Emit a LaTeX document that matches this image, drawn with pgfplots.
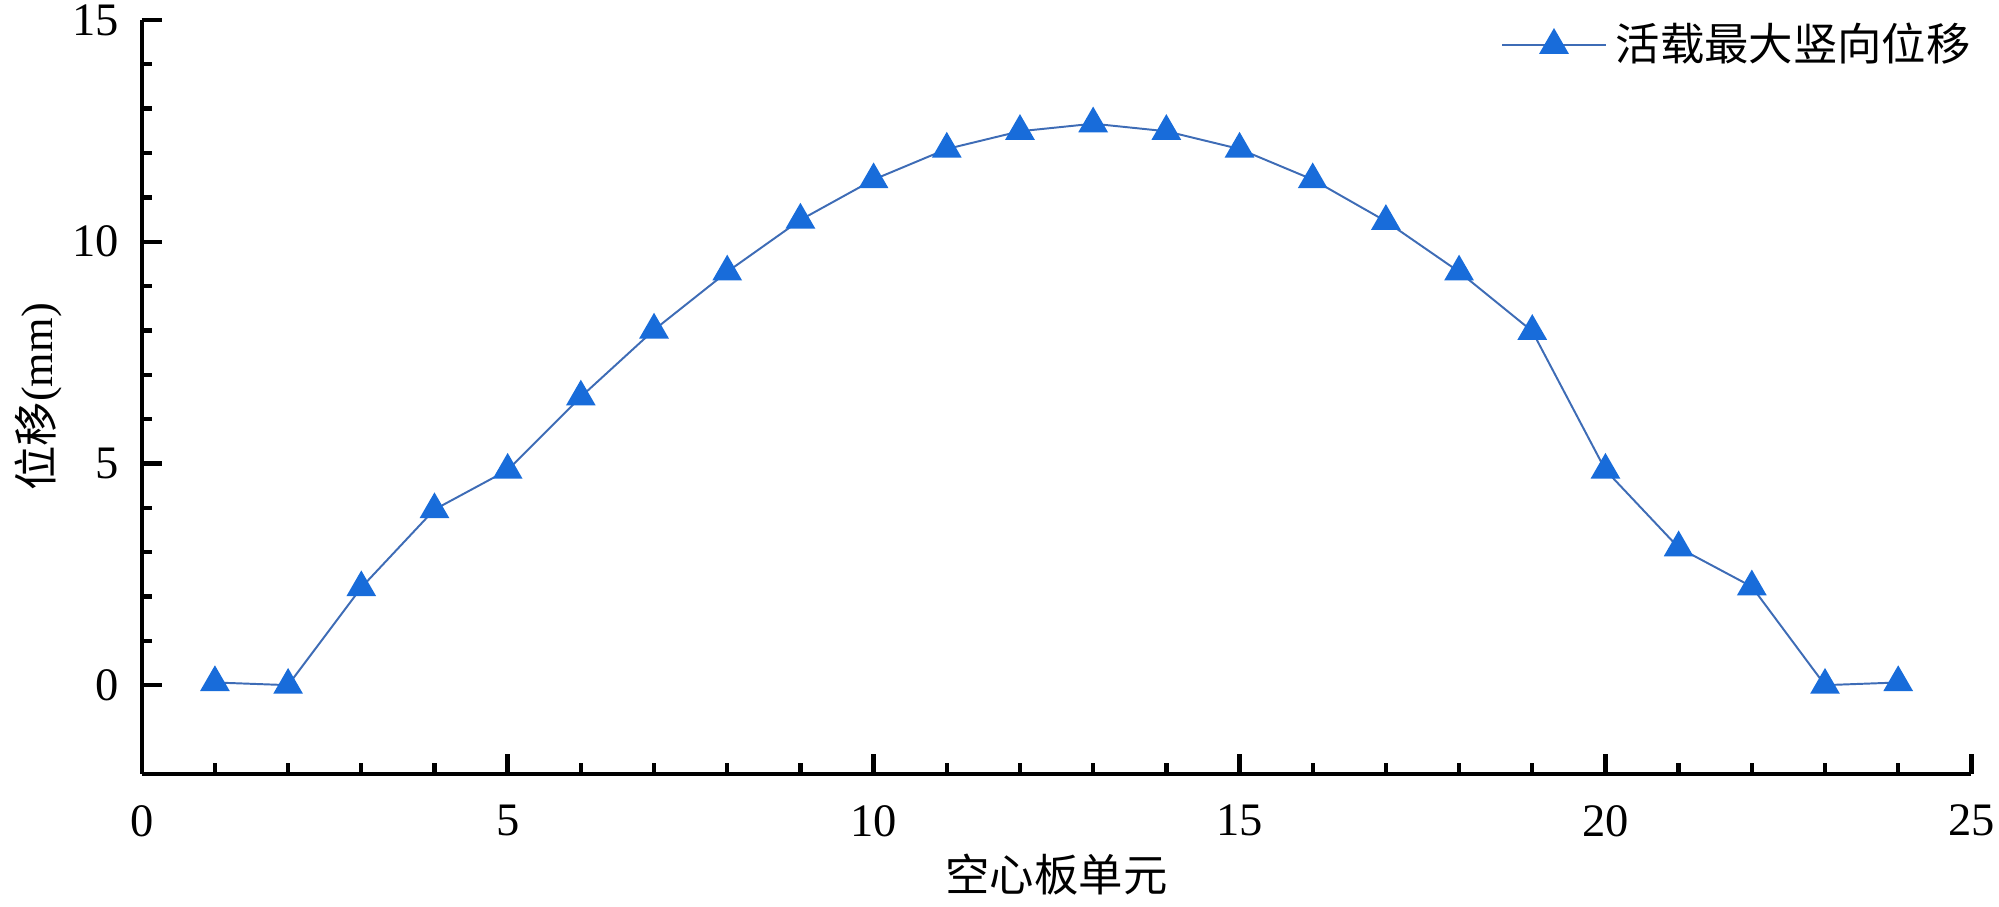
\documentclass[border=0pt]{standalone}
\usepackage{fontspec}
\setmainfont{Liberation Serif}
\newfontfamily\cjk{Noto Sans CJK SC}
\usepackage{pgfplots}
\pgfplotsset{compat=1.18}
\definecolor{markblue}{RGB}{24,108,218}
\definecolor{lineblue}{RGB}{62,108,182}
\begin{document}
\begin{tikzpicture}
\begin{axis}[
  width=14.78cm, height=6.09cm, scale only axis,
  xmin=0, xmax=25, ymin=-2, ymax=15,
  axis x line*=bottom, axis y line*=left, axis line style={line width=1pt},
  xtick={0,5,...,25}, ytick={0,5,10,15},
  minor x tick num=4, minor y tick num=4,
  tick align=inside, major tick length=0.16cm, minor tick length=0.085cm,
  tick style={line width=1pt, black},
  ticklabel style={font=\fontsize{10.7}{13}\selectfont, inner sep=1pt},
  xticklabel style={yshift=-6pt},
  yticklabel style={xshift=-4pt},
  /pgf/number format/assume math mode=true,
  xlabel={\cjk 空心板单元}, ylabel={{\cjk 位移}(mm)},
  label style={font=\fontsize{10.2}{12}\selectfont},
  xlabel style={yshift=0.5pt, text depth=0pt},
  ylabel style={yshift=-2pt},
  legend style={at={(1.012,1.02)}, anchor=north east, draw=none, fill=none,
    font=\fontsize{10.2}{12}\selectfont\cjk},
  legend image code/.code={\draw[mark repeat=2, mark phase=2] plot coordinates {(0cm,0cm) (0.42cm,0cm) (0.84cm,0cm)};},
]
\addplot[lineblue, line width=0.45pt, mark=triangle*, mark size=3.5pt,
  mark options={fill=markblue, draw=markblue}] coordinates {
  (1,0.06) (2,0.0) (3,2.2) (4,3.96) (5,4.85) (6,6.5) (7,8.01) (8,9.32)
  (9,10.49) (10,11.4) (11,12.09) (12,12.49) (13,12.66) (14,12.49) (15,12.09)
  (16,11.4) (17,10.46) (18,9.32) (19,7.98) (20,4.85) (21,3.1) (22,2.22)
  (23,0.0) (24,0.06)};
\legend{活载最大竖向位移}
\end{axis}
\end{tikzpicture}
\end{document}
